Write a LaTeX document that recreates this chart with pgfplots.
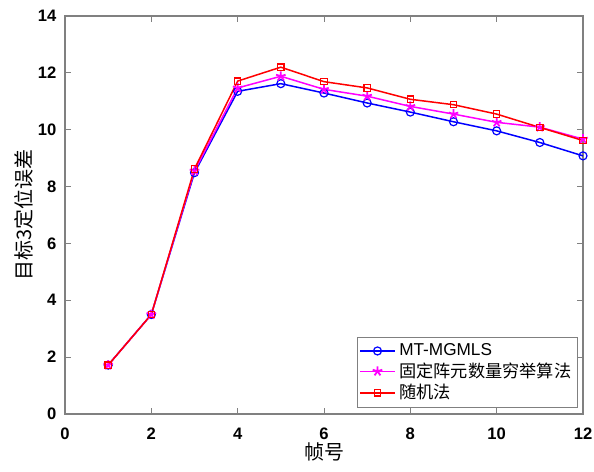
\documentclass[border=0pt]{standalone}
\usepackage{fontspec}
\setmainfont{Liberation Sans}
\newfontfamily\cjk{Noto Sans CJK SC}
\usepackage{pgfplots}
\pgfplotsset{compat=1.18}
\definecolor{mGray}{RGB}{128,128,128}
\definecolor{mBlue}{RGB}{0,0,255}
\definecolor{mMag}{RGB}{255,0,255}
\definecolor{mRed}{RGB}{255,0,0}

\begin{document}
\begin{tikzpicture}
\path[use as bounding box] (-32.5pt,-28.5pt) rectangle (264.5pt,207pt);
\begin{axis}[
  at={(0,0)}, anchor=south west,
  scale only axis,
  width=259pt, height=199pt,
  xmin=0, xmax=12, ymin=0, ymax=14,
  xtick={0,2,...,12}, ytick={0,2,...,14},
  tick align=inside, tick pos=both,
  major tick length=3pt,
  axis line style={draw=mGray, line width=0.6pt},
  tick style={draw=mGray, line width=0.5pt},
  /pgf/number format/assume math mode=true,
  tick label style={font=\fontsize{8.3}{10}\selectfont\bfseries},
  xticklabel style={yshift=-3.5pt},
  yticklabel style={xshift=-0.8pt},
  xlabel={\cjk 帧号},
  ylabel={\cjk 目标3定位误差},
  label style={font=\fontsize{10}{12}\selectfont},
  xlabel style={at={(axis description cs:0.5,0)}, anchor=center, yshift=-19pt},
  ylabel style={at={(axis description cs:0,0.5)}, anchor=center, yshift=20.5pt},
  legend style={font=\fontsize{8.6}{10}\selectfont, at={(rel axis cs:0.99,0.015)}, anchor=south east,
    draw=mGray, line width=0.5pt, inner sep=1pt, row sep=-2pt, cells={anchor=west}},
  legend cell align=left,
  every axis plot/.append style={line width=0.75pt},
]
\addplot[mBlue, mark=o, mark size=2pt, mark options={line width=0.6pt}] coordinates {
  (1,1.72) (2,3.50) (3,8.49) (4,11.35) (5,11.62) (6,11.29) (7,10.94) (8,10.62) (9,10.28) (10,9.96) (11,9.55) (12,9.08)
};
\addplot[mMag, mark=star, mark size=2.5pt, mark options={line width=0.9pt}] coordinates {
  (1,1.72) (2,3.50) (3,8.55) (4,11.47) (5,11.88) (6,11.42) (7,11.18) (8,10.82) (9,10.55) (10,10.26) (11,10.09) (12,9.67)
};
\addplot[mRed, mark=square, mark size=1.6pt, mark options={line width=0.6pt}] coordinates {
  (1,1.72) (2,3.50) (3,8.62) (4,11.71) (5,12.20) (6,11.69) (7,11.47) (8,11.07) (9,10.88) (10,10.55) (11,10.08) (12,9.62)
};
\legend{MT-MGMLS,{\cjk 固定阵元数量穷举算法},{\cjk 随机法}}
\end{axis}
\end{tikzpicture}
\end{document}
